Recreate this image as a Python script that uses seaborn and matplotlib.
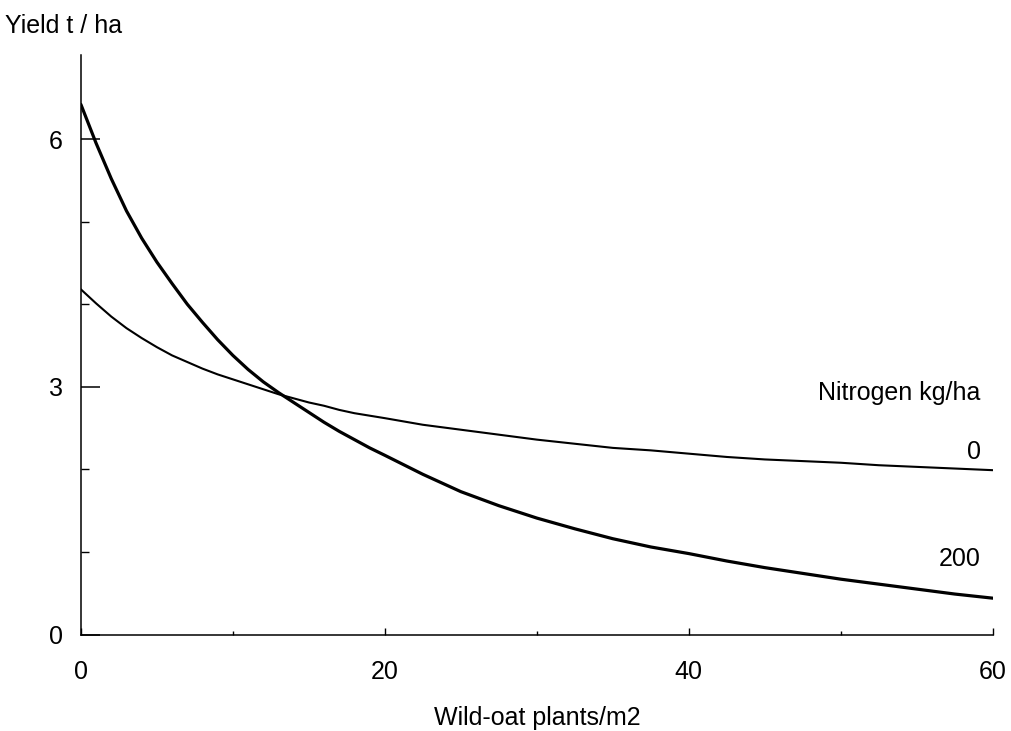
import matplotlib
matplotlib.use("Agg")
import matplotlib.pyplot as plt
from matplotlib.ticker import FixedLocator
import seaborn as sns
import pandas as pd

# values
wild_oats = [0, 1, 2, 3, 4, 5, 6, 7, 8, 9, 10, 11, 12, 13, 14, 15, 16, 17,
             18, 19, 20, 22.5, 25, 27.5, 30, 32.5, 35, 37.5, 40, 42.5, 45,
             47.5, 50, 52.5, 55, 57.5, 60]
yield_n0 = [4.18, 4.01, 3.85, 3.71, 3.59, 3.48, 3.38, 3.30, 3.22, 3.15, 3.09,
            3.03, 2.97, 2.91, 2.86, 2.81, 2.77, 2.72, 2.68, 2.65, 2.62, 2.54,
            2.48, 2.42, 2.36, 2.31, 2.26, 2.23, 2.19, 2.15, 2.12, 2.10, 2.08,
            2.05, 2.03, 2.01, 1.99]
yield_n200 = [6.42, 5.95, 5.52, 5.13, 4.80, 4.51, 4.25, 4.00, 3.78, 3.57, 3.38,
              3.21, 3.06, 2.93, 2.81, 2.69, 2.57, 2.46, 2.36, 2.26, 2.17, 1.94,
              1.73, 1.56, 1.41, 1.28, 1.16, 1.06, 0.98, 0.89, 0.81, 0.74, 0.67,
              0.61, 0.55, 0.49, 0.44]
x_ticks = [0, 20, 40, 60]
y_ticks = [0, 3, 6]

df = pd.DataFrame({
    "plants": wild_oats * 2,
    "yield": yield_n0 + yield_n200,
    "nitrogen": ["0"] * len(wild_oats) + ["200"] * len(wild_oats),
})

sns.set_theme(style="ticks")
plt.rcParams["font.family"] = ["Liberation Sans", "DejaVu Sans"]
plt.rcParams["text.color"] = "black"

fs = 18
fig = plt.figure(figsize=(10.11, 7.31), dpi=100)
ax = fig.add_axes([0.080, 0.132, 0.902, 0.793])

sns.lineplot(data=df[df.nitrogen == "0"], x="plants", y="yield",
             color="black", linewidth=1.5, ax=ax)
sns.lineplot(data=df[df.nitrogen == "200"], x="plants", y="yield",
             color="black", linewidth=2.3, ax=ax)

ax.set_xlim(0, 60)
ax.set_ylim(0, 7.02)
ax.set_xticks(x_ticks)
ax.set_yticks(y_ticks)
ax.xaxis.set_minor_locator(FixedLocator([10, 30, 50]))
ax.yaxis.set_minor_locator(FixedLocator([1, 2, 4, 5]))
sns.despine(ax=ax)
for s in ["left", "bottom"]:
    ax.spines[s].set_linewidth(1.1)
    ax.spines[s].set_color("black")

ax.tick_params(axis="y", which="major", direction="in", length=14, width=1.1,
               pad=13, labelsize=fs, colors="black")
ax.tick_params(axis="y", which="minor", direction="in", length=6, width=1.0,
               colors="black")
ax.tick_params(axis="x", which="major", direction="in", length=5, width=1.0,
               pad=18, labelsize=fs, colors="black")
ax.tick_params(axis="x", which="minor", direction="in", length=3, width=1.0,
               colors="black")

ax.set_xlabel("Wild-oat plants/m2", fontsize=fs, labelpad=16, color="black")
ax.set_ylabel("")
fig.text(0.005, 0.965, "Yield t / ha", fontsize=fs, ha="left", va="center",
         color="black")

ax.text(59.2, 2.92, "Nitrogen kg/ha", fontsize=fs, ha="right", va="center")
ax.text(59.2, 2.21, "0", fontsize=fs, ha="right", va="center")
ax.text(59.2, 0.91, "200", fontsize=fs, ha="right", va="center")

fig.savefig("out.png", dpi=100)
